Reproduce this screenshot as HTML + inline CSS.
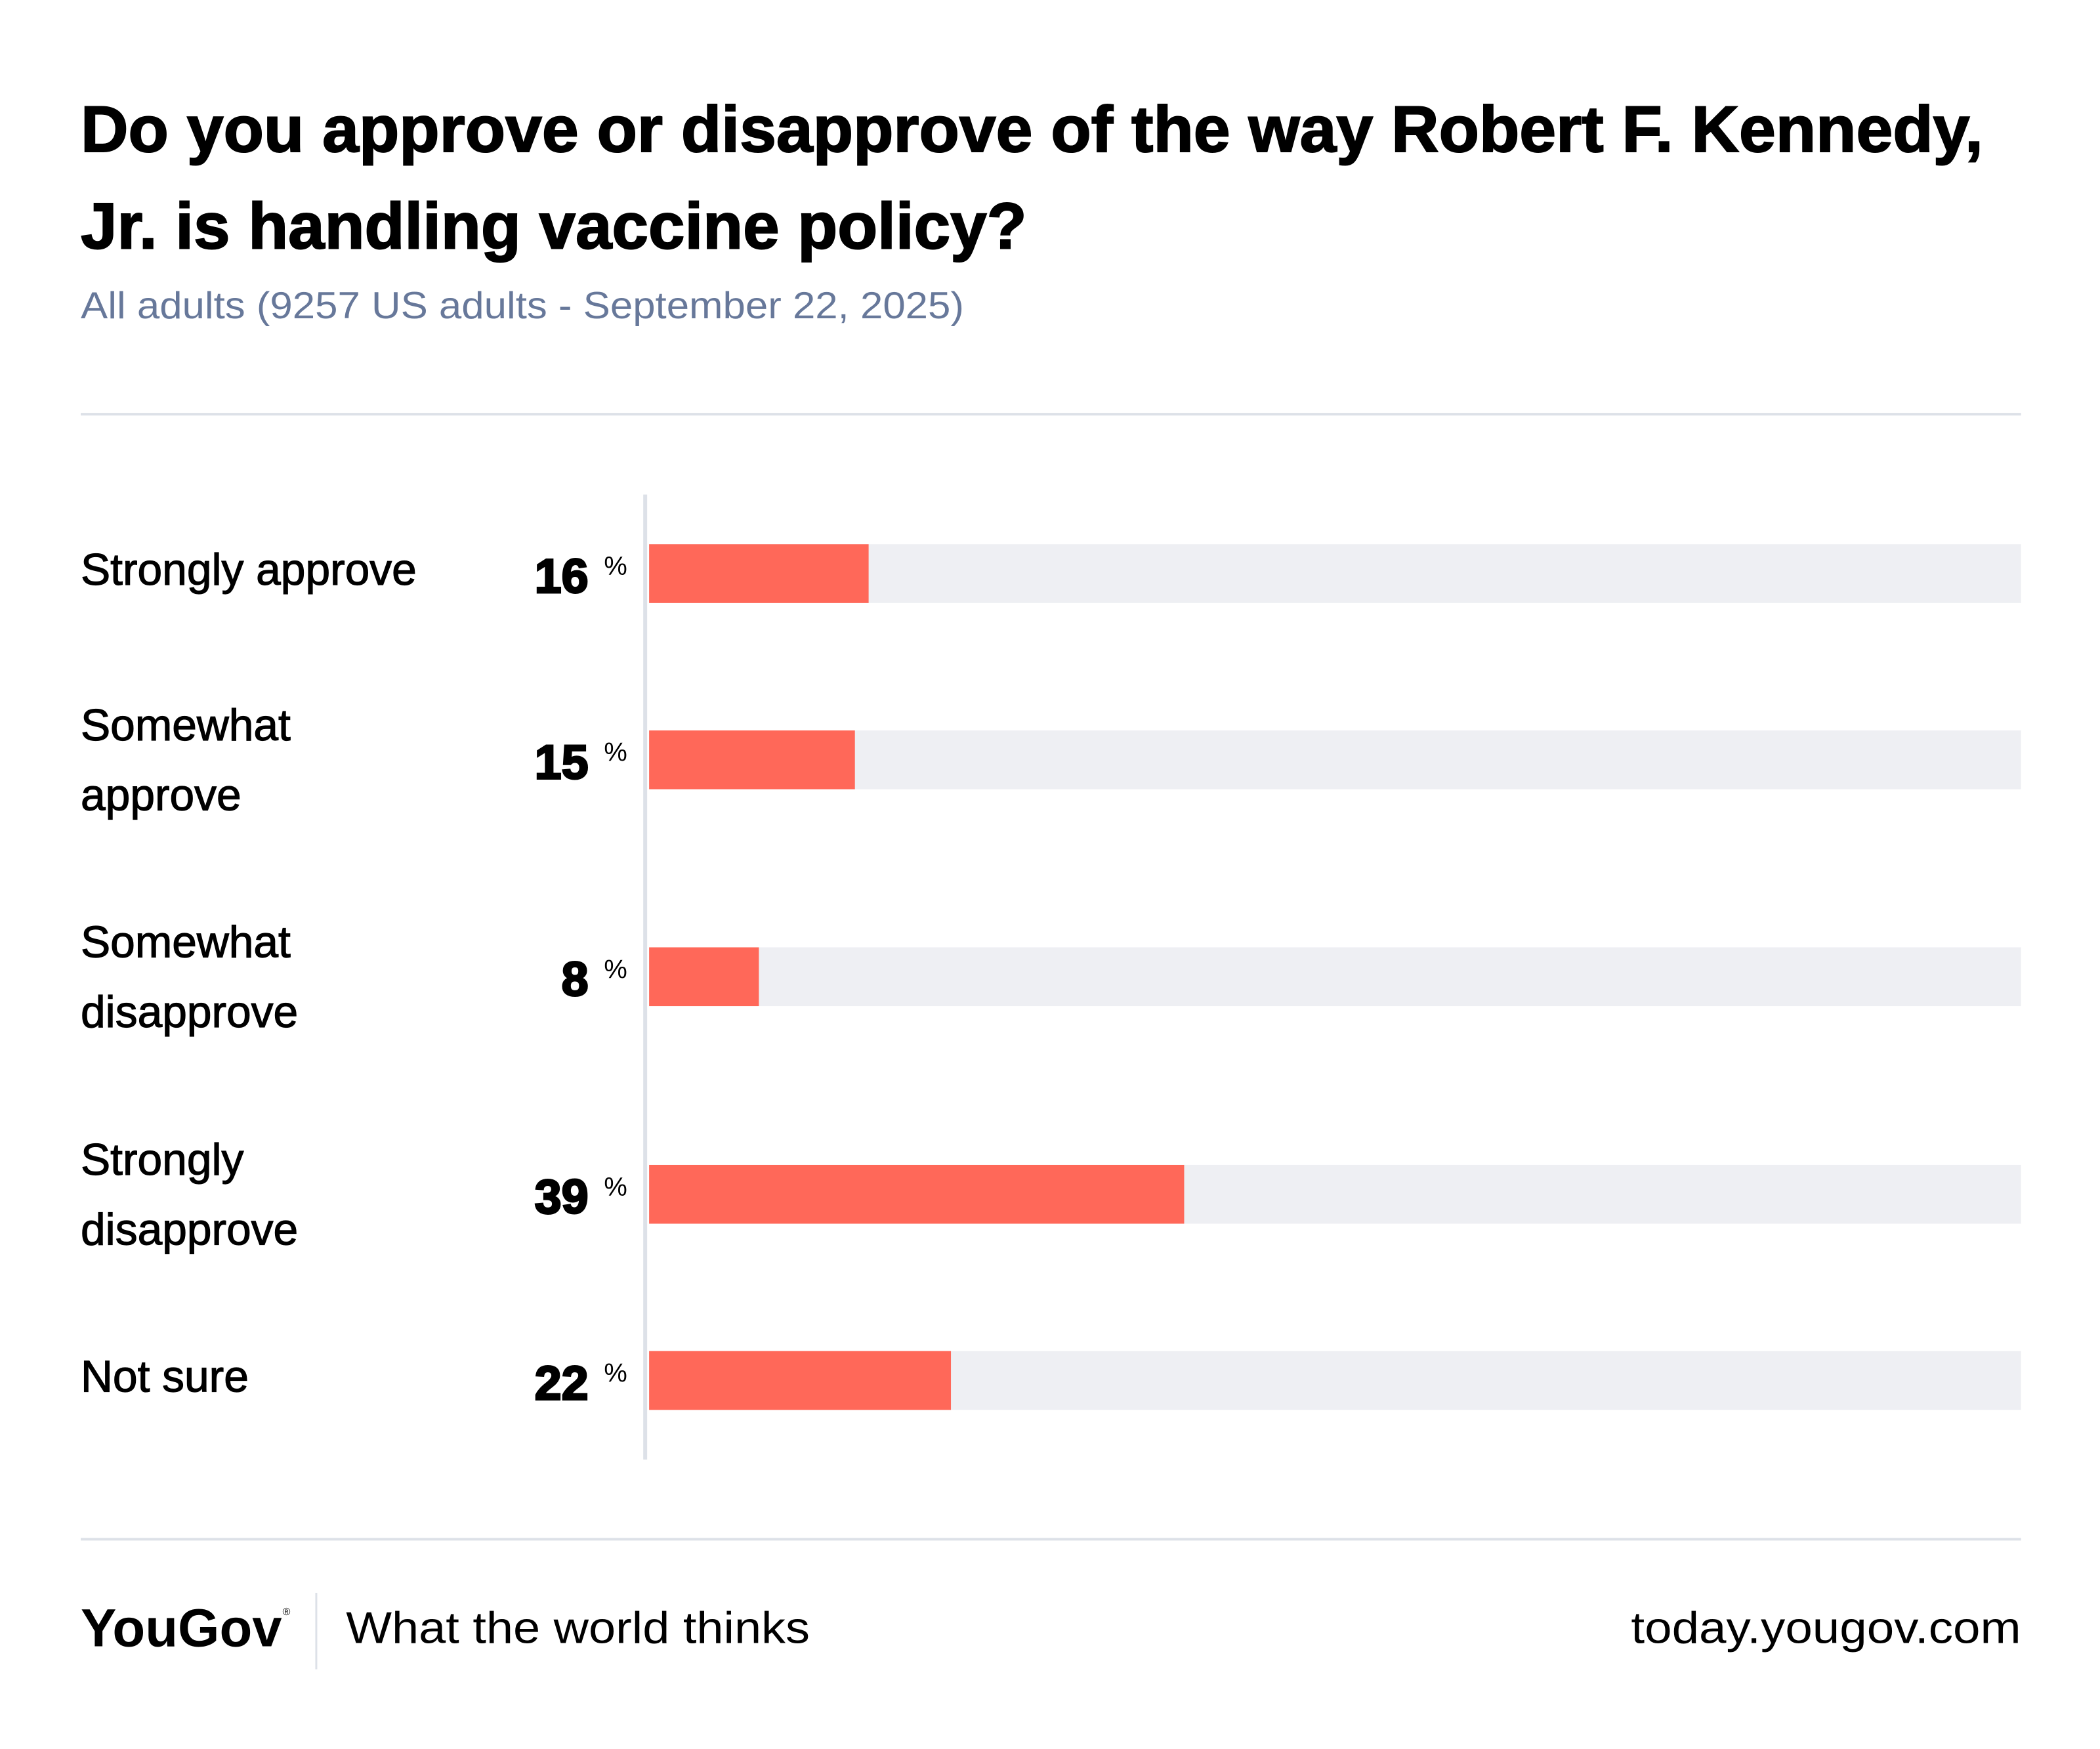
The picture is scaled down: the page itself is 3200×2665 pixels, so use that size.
<!DOCTYPE html>
<html><head><meta charset="utf-8"><style>
html,body{margin:0;padding:0;background:#fff;}
svg{display:block;font-family:"Liberation Sans",sans-serif;}
</style></head><body>
<svg id="chart" width="3200" height="2665" viewBox="0 0 3200 2665" xmlns="http://www.w3.org/2000/svg">
<rect width="3200" height="2665" fill="#fff"/>
<g transform="translate(0.6,-2) scale(0.9955)">
<text x="123" y="234" font-size="100" font-weight="bold" fill="#000" stroke="#000" stroke-width="2" textLength="2912" lengthAdjust="spacingAndGlyphs">Do you approve or disapprove of the way Robert F. Kennedy,</text>
<text x="123" y="382" font-size="100" font-weight="bold" fill="#000" stroke="#000" stroke-width="2" textLength="1448" lengthAdjust="spacingAndGlyphs">Jr. is handling vaccine policy?</text>
<text x="123" y="489" font-size="58" fill="#67789a" textLength="1352" lengthAdjust="spacingAndGlyphs">All adults (9257 US adults - September 22, 2025)</text>
<rect x="123" y="634" width="2970" height="4" fill="#dde1e8"/>
<g id="bars"></g>
<rect x="984" y="759" width="6" height="1477" fill="#dde1e8"/>
<rect x="123" y="2356" width="2970" height="4" fill="#dde1e8"/>
<text x="123" y="2522" font-size="82" font-weight="bold" fill="#000" textLength="308" lengthAdjust="spacingAndGlyphs">YouGov</text>
<text x="432" y="2474" font-size="16" fill="#000">®</text>
<rect x="482" y="2440" width="3" height="117" fill="#dde1e8"/>
<text x="529" y="2517" font-size="68" fill="#000" textLength="710" lengthAdjust="spacingAndGlyphs">What the world thinks</text>
<text x="3093" y="2517" font-size="68" fill="#000" text-anchor="end" textLength="597" lengthAdjust="spacingAndGlyphs">today.yougov.com</text>
</g>
</svg>
<script>
const categories = [["Strongly approve"],["Somewhat","approve"],["Somewhat","disapprove"],["Strongly","disapprove"],["Not sure"]];
const values = [16, 15, 8, 39, 22];
const rowCenters = [880, 1165, 1497, 1830, 2115];
const xMax = 100;
const NS = "http://www.w3.org/2000/svg";
const x0 = 993, x1 = 3093, barH = 90;
function xScale(v){ return x0 + (x1 - x0) * v / xMax; }
const g = document.getElementById('bars');
function mk(tag, attrs){ const e = document.createElementNS(NS, tag); for (const k in attrs) e.setAttribute(k, attrs[k]); return e; }
values.forEach((v, i) => {
  const cy = rowCenters[i];
  const track = mk('rect', {x: x0, y: cy - barH/2, width: x1 - x0, height: barH, fill: '#eeeff3'});
  
  
  g.appendChild(track);
  const bar = mk('rect', {x: x0, y: cy - barH/2, width: xScale(v) - x0, height: barH, fill: '#ff6859'});
  
  
  g.appendChild(bar);
  const val = mk('text', {x: 900, y: cy + 29, 'font-size': 74, 'font-weight': 'bold', 'text-anchor': 'end', fill: '#000', stroke: '#000', 'stroke-width': 3});
  val.textContent = v;
  
  
  g.appendChild(val);
  const pct = mk('text', {x: 924, y: cy + 2, 'font-size': 40, fill: '#000'});
  pct.textContent = '%';
  
  
  g.appendChild(pct);
  const lines = categories[i];
  lines.forEach((t, j) => {
    const y = lines.length === 1 ? cy + 17 : cy - 30 + j * 107;
    const lab = mk('text', {x: 123, y: y, 'font-size': 68, fill: '#000', stroke: '#000', 'stroke-width': 1.2});
    lab.textContent = t;
    
    
    g.appendChild(lab);
  });
});
</script>
</body></html>
